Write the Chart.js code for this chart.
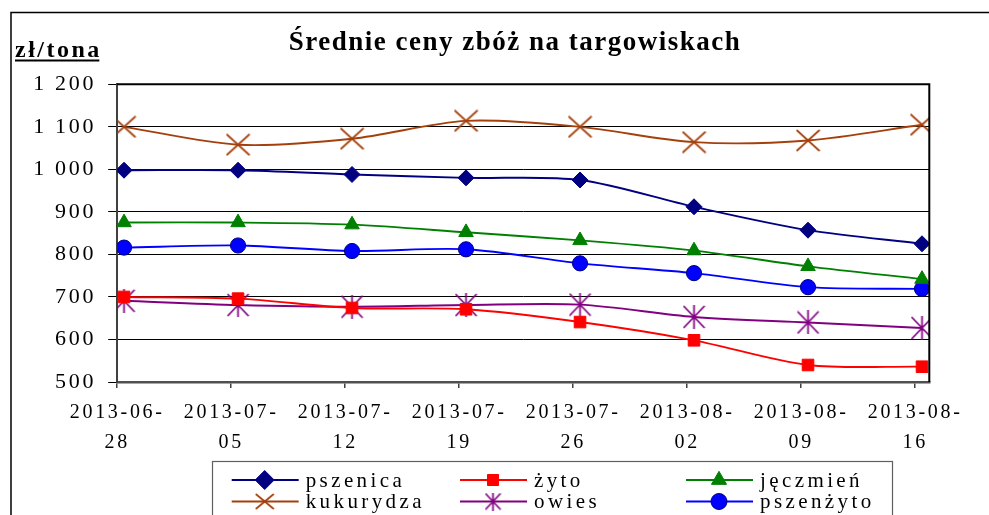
<!DOCTYPE html>
<html>
<head>
<meta charset="utf-8">
<script src="https://cdn.jsdelivr.net/npm/chart.js@4.4.1/dist/chart.umd.min.js"></script>
<style>
  html, body { margin: 0; padding: 0; background: #fff; }
</style>
</head>
<body>
<canvas id="myChart" width="989" height="515"></canvas>
<script>
// dates on the x axis, split in two lines like the original
const dates = [
    ['2013-06-', '28'], ['2013-07-', '05'], ['2013-07-', '12'], ['2013-07-', '19'],
    ['2013-07-', '26'], ['2013-08-', '02'], ['2013-08-', '09'], ['2013-08-', '16']
];

// zł/tona
const pszenica   = [998, 998, 988, 980, 975, 912, 857, 825];
const zyto       = [700, 696, 674, 671, 641, 598, 540, 536];
const jeczmien   = [875, 875, 870, 852, 833, 809, 772, 742];
const kukurydza  = [1100, 1058, 1072, 1114, 1100, 1064, 1068, 1105];
const owies      = [691, 681, 677, 681, 682, 653, 640, 627];
const pszenzyto  = [816, 821, 808, 812, 779, 756, 723, 719];

const yTicks = [500, 600, 700, 800, 900, 1000, 1100, 1200];

const SERIF = '"Liberation Serif", "Times New Roman", serif';

// X and asterisk markers drawn on small canvases
function crossImg(w, h, color, star) {
    const c = document.createElement('canvas');
    c.width = w; c.height = h;
    const g = c.getContext('2d');
    g.strokeStyle = color;
    g.lineWidth = 1.7;
    g.beginPath();
    g.moveTo(1, 1); g.lineTo(w - 1, h - 1);
    g.moveTo(w - 1, 1); g.lineTo(1, h - 1);
    if (star) { g.moveTo(w / 2, 0); g.lineTo(w / 2, h); }
    g.stroke();
    return c;
}

const BROWN = '#A4400C';
const PURPLE = '#800080';

const series = [
    { label: 'pszenica',  data: pszenica,  color: '#000080', fill: '#000080', style: 'rectRot',  r: 8,   lr: 9.5 },
    { label: 'żyto',      data: zyto,      color: '#FF0000', fill: '#FF0000', style: 'rect',     r: 8.2, lr: 7.8 },
    { label: 'jęczmień',  data: jeczmien,  color: '#008000', fill: '#008000', style: 'triangle', r: 8.4, lr: 8.7 },
    { label: 'kukurydza', data: kukurydza, color: BROWN,     fill: BROWN,     style: crossImg(25, 23, BROWN, false), r: 12,
      legendStyle: crossImg(20, 17, BROWN, false), lr: 10 },
    { label: 'owies',     data: owies,     color: PURPLE,    fill: PURPLE,    style: crossImg(23, 24, PURPLE, true), r: 12,
      legendStyle: crossImg(17, 18, PURPLE, true), lr: 9 },
    { label: 'pszenżyto', data: pszenzyto, color: '#0000FF', fill: '#0000FF', style: 'circle',   r: 7.6, lr: 8, border: '#000080' }
];

function fmt(v) {
    if (v >= 1000) return Math.floor(v / 1000) + ' ' + String(v % 1000).padStart(3, '0');
    return String(v);
}

const decorPlugin = {
    id: 'decor',
    beforeDraw(chart) {
        chart.ctx.letterSpacing = '2.7px';
    },
    afterDraw(chart) {
        const ctx = chart.ctx;
        const a = chart.chartArea;
        ctx.save();
        ctx.letterSpacing = '0px';

        // outer frame
        ctx.strokeStyle = '#000';
        ctx.lineWidth = 1.5;
        ctx.strokeRect(11, 12.5, 1000, 600);

        // plot area frame (top and right)
        ctx.lineWidth = 2;
        ctx.beginPath();
        ctx.moveTo(a.left, a.top);
        ctx.lineTo(a.right, a.top);
        ctx.lineTo(a.right, a.bottom);
        ctx.stroke();

        // title
        ctx.fillStyle = '#000';
        ctx.font = 'bold 27px ' + SERIF;
        ctx.letterSpacing = '1.5px';
        ctx.textAlign = 'center';
        ctx.textBaseline = 'alphabetic';
        ctx.fillText('Średnie ceny zbóż na targowiskach', 515, 50);

        // unit
        ctx.font = 'bold 24px ' + SERIF;
        ctx.letterSpacing = '2.5px';
        ctx.textAlign = 'left';
        const unit = 'zł/tona';
        ctx.fillText(unit, 15, 57);
        const uw = ctx.measureText(unit).width - 2.5;
        ctx.fillRect(15, 59.5, uw, 2);

        // legend
        ctx.strokeStyle = '#606060';
        ctx.lineWidth = 1.2;
        ctx.strokeRect(212.5, 461.5, 680, 80);
        const colX = [231.7, 460, 686];
        const rowY = [480, 501.5];
        const order = [[0, 0, 0], [1, 1, 0], [2, 2, 0], [3, 0, 1], [4, 1, 1], [5, 2, 1]];
        ctx.font = '21px ' + SERIF;
        ctx.letterSpacing = '3.4px';
        ctx.textBaseline = 'middle';
        order.forEach(([i, c, r]) => {
            const s = series[i];
            const x0 = colX[c], y = rowY[r];
            ctx.strokeStyle = s.color;
            ctx.lineWidth = 2;
            ctx.beginPath();
            ctx.moveTo(x0, y);
            ctx.lineTo(x0 + 67, y);
            ctx.stroke();
            ctx.fillStyle = s.fill;
            ctx.strokeStyle = s.border || s.color;
            ctx.lineWidth = 1;
            Chart.helpers.drawPoint(ctx, {
                pointStyle: s.legendStyle || s.style,
                radius: s.lr,
                rotation: 0,
                borderWidth: 1
            }, x0 + 33, y);
            ctx.fillStyle = '#000';
            ctx.fillText(s.label, x0 + 74, y + 1);
        });
        ctx.restore();
    }
};

const ctx = document.getElementById('myChart').getContext('2d');
const chart = new Chart(ctx, {
    type: 'line',
    data: {
        datasets: series.map(s => ({
            label: s.label,
            data: s.data.map((v, i) => ({ x: i, y: v })),
            borderColor: s.color,
            backgroundColor: s.fill,
            borderWidth: 1.9,
            tension: 0.3,
            pointStyle: s.style,
            pointRadius: s.r,
            pointBorderColor: s.border || s.color,
            pointBackgroundColor: s.fill,
            pointBorderWidth: 1
        }))
    },
    options: {
        responsive: false,
        animation: false,
        devicePixelRatio: 1,
        layout: { padding: { left: 0, top: 84.3, right: 59.7, bottom: 0 } },
        plugins: {
            legend: { display: false },
            title: { display: false },
            tooltip: { enabled: false }
        },
        scales: {
            x: {
                type: 'linear',
                min: -0.06,
                max: 7.064,
                afterBuildTicks(scale) {
                    scale.ticks = dates.map((d, i) => ({ value: i - 0.06 }));
                },
                afterFit(scale) { scale.height = 133; },
                grid: { drawOnChartArea: false, drawTicks: true, tickLength: 6, color: '#404040', lineWidth: 1.5 },
                border: { color: '#505050', width: 2.5 },
                ticks: {
                    autoSkip: false,
                    maxRotation: 0,
                    padding: 10,
                    color: '#000',
                    font: { family: SERIF, size: 20, lineHeight: 1.5 },
                    callback: (v, i) => dates[i]
                }
            },
            y: {
                min: 500,
                max: 1200,
                afterBuildTicks(scale) {
                    scale.ticks = yTicks.map(v => ({ value: v }));
                },
                afterFit(scale) { scale.width = 117.2; },
                grid: { color: '#000', lineWidth: 1, tickLength: 9 },
                border: { color: '#404040', width: 2 },
                ticks: {
                    padding: 12,
                    color: '#000',
                    font: { family: SERIF, size: 22 },
                    callback: v => fmt(v)
                }
            }
        }
    },
    plugins: [decorPlugin]
});
</script>
</body>
</html>
